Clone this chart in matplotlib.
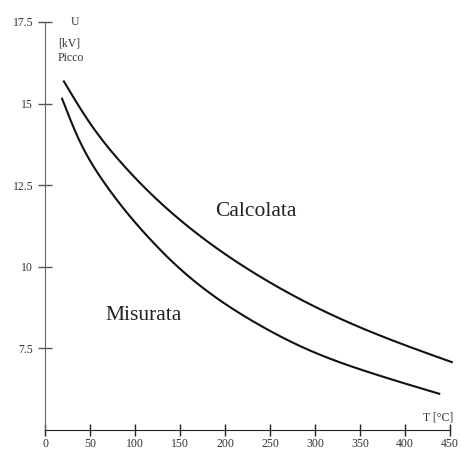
import numpy as np
import matplotlib
matplotlib.use('Agg')
import matplotlib.pyplot as plt

plt.rcParams['font.family'] = ['Liberation Serif', 'DejaVu Serif']

# Tensione di picco in funzione della temperatura
t_calc = [21, 48, 83, 156, 233, 317, 380, 452]
u_calc = [15.68, 14.48, 13.24, 11.30, 9.80, 8.55, 7.81, 7.08]

t_mis = [19, 36, 64, 117, 139, 233, 294, 361, 438]
u_mis = [15.15, 14.00, 12.65, 10.84, 10.22, 8.30, 7.44, 6.76, 6.11]

x_ticks = [0, 50, 100, 150, 200, 250, 300, 350, 400, 450]
y_ticks = [7.5, 10, 12.5, 15, 17.5]
y_labels = ['7.5', '10', '12.5', '15', '17.5']


def spline(x, y, n=400):
    # spline cubica naturale attraverso i punti
    x = np.asarray(x, float)
    y = np.asarray(y, float)
    k = len(x)
    h = np.diff(x)
    A = np.zeros((k, k))
    b = np.zeros(k)
    A[0, 0] = A[-1, -1] = 1
    for i in range(1, k - 1):
        A[i, i - 1] = h[i - 1]
        A[i, i] = 2 * (h[i - 1] + h[i])
        A[i, i + 1] = h[i]
        b[i] = 6 * ((y[i + 1] - y[i]) / h[i] - (y[i] - y[i - 1]) / h[i - 1])
    M = np.linalg.solve(A, b)
    xs = np.linspace(x[0], x[-1], n)
    j = np.clip(np.searchsorted(x, xs) - 1, 0, k - 2)
    dx1 = x[j + 1] - xs
    dx0 = xs - x[j]
    hj = h[j]
    ys = (M[j] * dx1 ** 3 / (6 * hj) + M[j + 1] * dx0 ** 3 / (6 * hj)
          + (y[j] / hj - M[j] * hj / 6) * dx1 + (y[j + 1] / hj - M[j + 1] * hj / 6) * dx0)
    return xs, ys


fig = plt.figure(figsize=(4.61, 4.49), dpi=100)
ax = fig.add_axes([45 / 461, 19 / 449, 405 / 461, 408 / 449])

xs, ys = spline(t_calc, u_calc)
ax.plot(xs, ys, color='#111111', lw=1.5, clip_on=False)
xs, ys = spline(t_mis, u_mis)
ax.plot(xs, ys, color='#111111', lw=1.5, clip_on=False)

ax.set_xlim(0, 450)
ax.set_ylim(5, 17.5)

ax.spines['top'].set_visible(False)
ax.spines['right'].set_visible(False)
ax.spines['left'].set_color('#666666')
ax.spines['bottom'].set_color('#222222')

ax.set_xticks(x_ticks)
ax.set_xticklabels([str(v) for v in x_ticks])
ax.set_yticks(y_ticks)
ax.set_yticklabels(y_labels)
ax.tick_params(axis='x', direction='inout', length=8, width=1, color='#222222',
               labelsize=8.5, labelcolor='#333333', pad=2)
ax.tick_params(axis='y', direction='inout', length=10, width=1, color='#555555',
               labelsize=8.5, labelcolor='#333333', pad=3.5)

ax.text(234, 11.57, 'Calcolata', fontsize=15.5, ha='center', va='baseline', color='#222222')
ax.text(109, 8.36, 'Misurata', fontsize=15.5, ha='center', va='baseline', color='#222222')

ax.text(32.8, 17.41, 'U', fontsize=8.5, ha='center', va='baseline', color='#333333', clip_on=False)
ax.text(26.7, 16.76, '[kV]', fontsize=8.5, ha='center', va='baseline', color='#333333')
ax.text(28.3, 16.30, 'Picco', fontsize=8.5, ha='center', va='baseline', color='#333333')
ax.text(437, 5.28, 'T [°C]', fontsize=8.5, ha='center', va='baseline', color='#333333')

fig.savefig('out.png', dpi=100)
